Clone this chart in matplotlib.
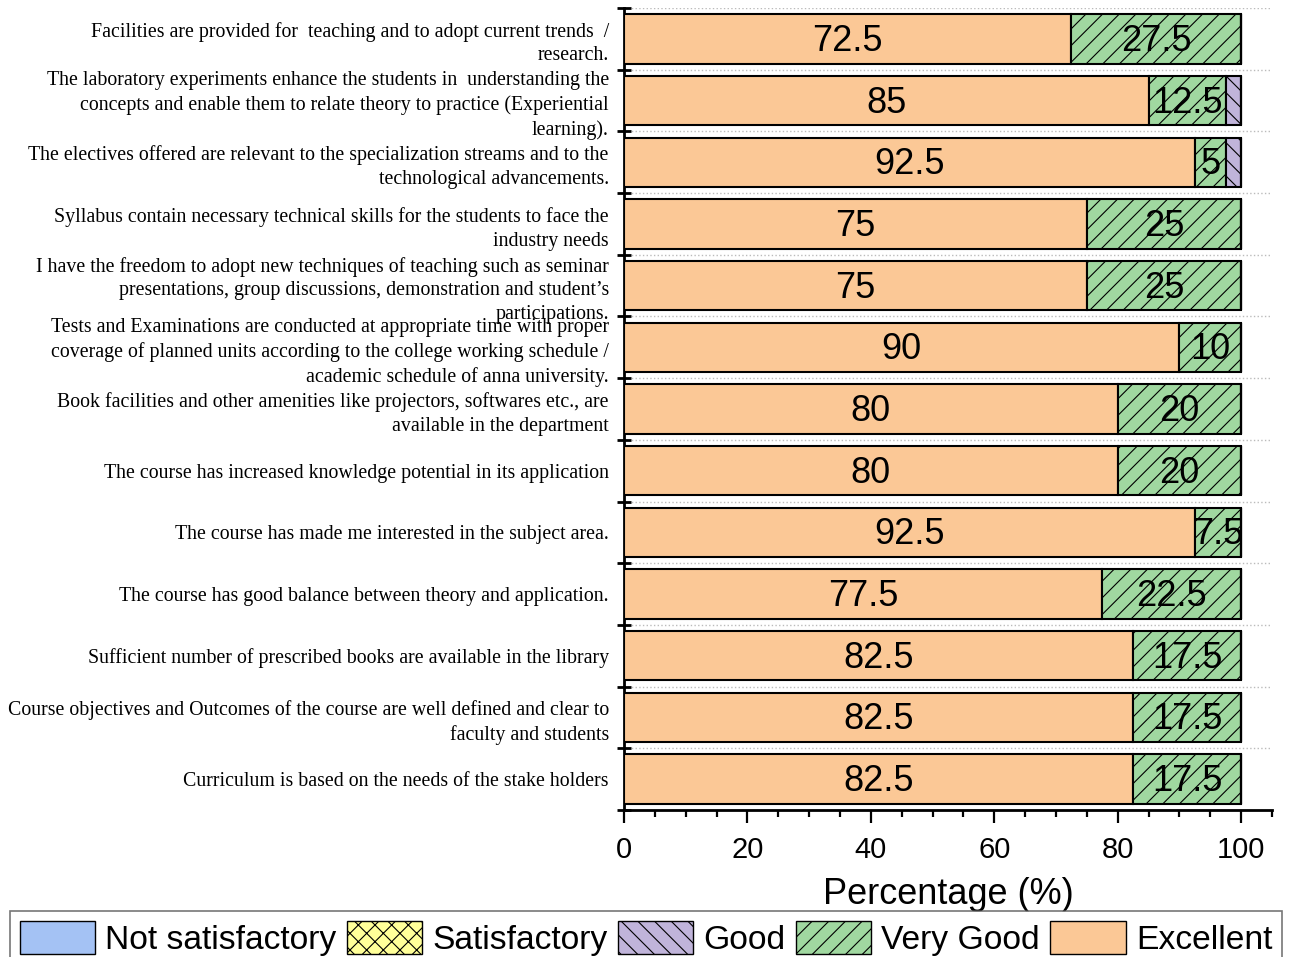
import numpy as np
import matplotlib.pyplot as plt
from matplotlib.patches import Patch
from matplotlib.ticker import MultipleLocator

questions = [
    "Facilities are provided for  teaching and to adopt current trends  /\nresearch.",
    "The laboratory experiments enhance the students in  understanding the\nconcepts and enable them to relate theory to practice (Experiential\nlearning).",
    "The electives offered are relevant to the specialization streams and to the\ntechnological advancements.",
    "Syllabus contain necessary technical skills for the students to face the\nindustry needs",
    "I have the freedom to adopt new techniques of teaching such as seminar\npresentations, group discussions, demonstration and student\u2019s\nparticipations.",
    "Tests and Examinations are conducted at appropriate time with proper\ncoverage of planned units according to the college working schedule /\nacademic schedule of anna university.",
    "Book facilities and other amenities like projectors, softwares etc., are\navailable in the department",
    "The course has increased knowledge potential in its application",
    "The course has made me interested in the subject area.",
    "The course has good balance between theory and application.",
    "Sufficient number of prescribed books are available in the library",
    "Course objectives and Outcomes of the course are well defined and clear to\nfaculty and students",
    "Curriculum is based on the needs of the stake holders",
]

excellent = [72.5, 85, 92.5, 75, 75, 90, 80, 80, 92.5, 77.5, 82.5, 82.5, 82.5]
very_good = [27.5, 12.5, 5, 25, 25, 10, 20, 20, 7.5, 22.5, 17.5, 17.5, 17.5]
good = [0, 2.5, 2.5, 0, 0, 0, 0, 0, 0, 0, 0, 0, 0]
satisfactory = [0] * 13
not_satisfactory = [0] * 13

series_names = ["Excellent", "Very Good", "Good", "Satisfactory", "Not satisfactory"]
series_vals = [excellent, very_good, good, satisfactory, not_satisfactory]
colors = ["#fbc896", "#a0d8a0", "#c0b4da", "#ffff99", "#a4c2f4"]
hatches = ["", "//", "\\\\", "xx", ""]

plt.rcParams['hatch.linewidth'] = 0.8

fig = plt.figure(figsize=(12.92, 9.57), dpi=100)
ax = fig.add_axes([0.483, 0.1536, 0.5015, 0.838])

y = np.arange(len(questions))
left = np.zeros(len(questions))
for name, vals, col, h in zip(series_names, series_vals, colors, hatches):
    vals = np.array(vals, dtype=float)
    ax.barh(y, vals, left=left, height=0.8, color=col, edgecolor='black',
            linewidth=1.5, hatch=h, zorder=3)
    if name in ("Excellent", "Very Good"):
        for yi, l, v in zip(y, left, vals):
            if v > 0:
                ax.text(l + v / 2, yi + 0.04, f"{v:g}", ha='center', va='center',
                        fontsize=26, family='Liberation Sans', zorder=4)
    left = left + vals

ax.set_xlim(0, 105)
ax.set_ylim(len(questions) - 0.5, -0.5)

ax.set_yticks(y)
ax.set_yticklabels(questions, family='Liberation Serif', fontsize=14.3,
                   linespacing=1.33)
ax.tick_params(axis='y', which='major', length=0, pad=11)
ax.set_yticks(np.arange(len(questions) + 1) - 0.5, minor=True)
ax.tick_params(axis='y', which='minor', direction='inout', length=10, width=2)
ax.grid(axis='y', which='minor', color='#bbbbbb', linestyle=':', linewidth=1,
        zorder=0)

ax.xaxis.set_major_locator(MultipleLocator(20))
ax.xaxis.set_minor_locator(MultipleLocator(5))
ax.tick_params(axis='x', which='major', direction='out', length=9, width=1.6,
               labelsize=21, pad=10)
ax.tick_params(axis='x', which='minor', direction='out', length=5, width=1.6)
for lab in ax.get_xticklabels():
    lab.set_family('Liberation Sans')
ax.set_xlabel("Percentage (%)", fontsize=26, family='Liberation Sans',
              labelpad=9)

ax.spines['top'].set_visible(False)
ax.spines['right'].set_visible(False)
ax.spines['left'].set_linewidth(2)
ax.spines['bottom'].set_linewidth(2)

handles = [Patch(facecolor=c, edgecolor='black', hatch=h, label=n)
           for n, c, h in zip(series_names[::-1], colors[::-1], hatches[::-1])]
leg = fig.legend(handles=handles, loc='lower center', bbox_to_anchor=(0.5, -0.027),
                 ncol=5, prop={'family': 'Liberation Sans', 'size': 24.2},
                 handlelength=2.25, handleheight=1.15, handletextpad=0.3,
                 columnspacing=0.3, borderpad=0.3, frameon=True, fancybox=False)
leg.get_frame().set_edgecolor('#555555')
leg.get_frame().set_linewidth(1.2)

plt.savefig('out.png', dpi=100)
